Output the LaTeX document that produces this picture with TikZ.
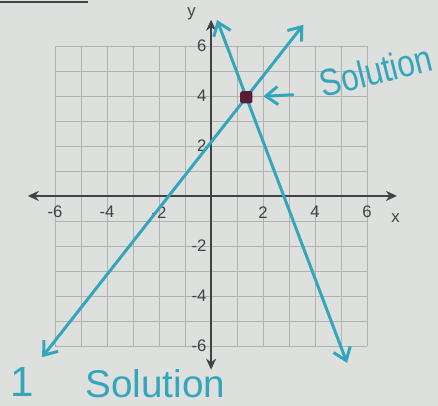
\documentclass[tikz,border=0pt]{standalone}
\usepackage{fontspec}
\setmainfont{Liberation Sans}
\usetikzlibrary{arrows.meta}

\definecolor{paper}{RGB}{221,224,221}
\definecolor{marker}{RGB}{52,166,188}
\definecolor{pencil}{RGB}{66,66,70}
\definecolor{dotred}{RGB}{88,30,52}

\begin{document}
\begin{tikzpicture}[x=0.52cm, y=0.5cm,
    gridline/.style={gray!60, line width=0.45pt},
    axisline/.style={pencil, line width=1pt, {Stealth[length=2.2mm,width=2mm]}-{Stealth[length=2.2mm,width=2mm]}},
    ticklabel/.style={pencil, font=\fontsize{9.5}{10}\selectfont, inner sep=1pt},
    pen/.style={marker, line width=1.7pt, line cap=round, line join=round},
    penarrows/.style={pen, {Straight Barb[length=2.4mm,width=3.6mm]}-{Straight Barb[length=2.4mm,width=3.6mm]}},
    hand/.style={marker, inner sep=0pt}]
        % paper
        \fill[paper] (-8.12,-8.4) rectangle (8.73,7.84);
        \useasboundingbox (-8.12,-8.4) rectangle (8.73,7.84);
        \draw[pencil, line width=1.2pt] (-8.12,7.76) -- (-4.73,7.76);

        % grid
        \foreach \g in {-6,...,6} {
          \draw[gridline] (\g,-6) -- (\g,6);
          \draw[gridline] (-6,\g) -- (6,\g);
        }

        % axes
        \coordinate (xlo) at (-7.05,0);
        \coordinate (xhi) at (7.15,0);
        \coordinate (ylo) at (0,-6.95);
        \coordinate (yhi) at (0,7.05);
        \draw[axisline] (xlo) -- (xhi);
        \draw[axisline] (ylo) -- (yhi);
        \node[ticklabel] (ylab) at (-0.75,7.3) {y};
        \node[ticklabel] (xlab) at (7.1,-0.9) {x};
        \foreach \v [count=\i] in {-6,-4,-2,2,4,6} {
          \node[ticklabel] (xl\i) at (\v,-0.65) {\v};
          \node[ticklabel, anchor=east] (yl\i) at (-0.1,\v) {\v};
        }

        % the two lines
        \coordinate (a1) at (-6.5,-6.45);
        \coordinate (a2) at (3.55,6.85);
        \coordinate (b1) at (0.23,7.04);
        \coordinate (b2) at (5.23,-6.68);
        \draw[penarrows] (a1) -- (a2);
        \draw[penarrows] (b1) -- (b2);
        \node[fill=dotred, minimum size=7pt, inner sep=0pt, rounded corners=1pt] (dot)
          at (intersection of a1--a2 and b1--b2) {};

        % handwriting
        \node[hand, rotate=14, yscale=1.2, font=\fontsize{18}{18}\selectfont] (soltext) at (6.35,5.0) {Solution};
        \coordinate (soltail) at (3.15,4.05);
        \draw[pen, -{Straight Barb[length=2.4mm,width=3.6mm]}, shorten >=6pt] (soltail) -- (dot);
        \node[hand, font=\fontsize{24}{24}\selectfont] (one) at (-7.25,-7.45) {1};
        \node[hand, font=\fontsize{22}{22}\selectfont] (sol) at (-2.15,-7.5) {Solution};
      \end{tikzpicture}
\end{document}
